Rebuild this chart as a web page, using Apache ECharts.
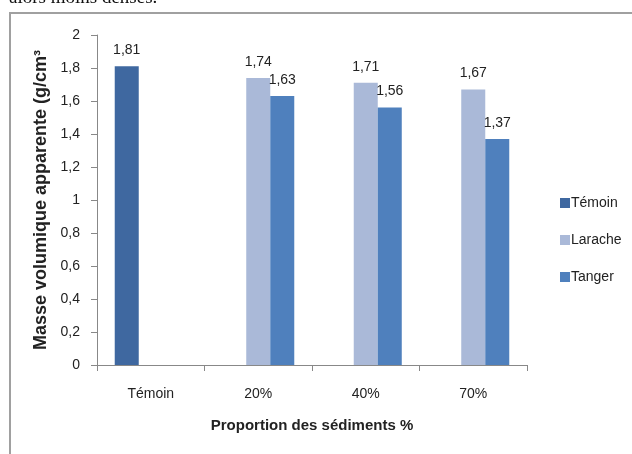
<!DOCTYPE html>
<html>
<head>
<meta charset="utf-8">
<script src="https://cdn.jsdelivr.net/npm/echarts@6/dist/echarts.min.js"></script>
<style>
  html, body { margin: 0; padding: 0; background: #fff; }
  #chart { width: 632px; height: 454px; }
</style>
</head>
<body>
<div id="chart"></div>
<script>
// Bulk density by sediment proportion
const categories = ['Témoin', '20%', '40%', '70%'];
const seriesNames = ['Témoin', 'Larache', 'Tanger'];
const temoinValues  = [1.81, null, null, null];
const laracheValues = [null, 1.74, 1.71, 1.67];
const tangerValues  = [null, 1.63, 1.56, 1.37];
const yTicks = [0, 0.2, 0.4, 0.6, 0.8, 1, 1.2, 1.4, 1.6, 1.8, 2];

const colors = ['#3F68A0', '#AAB9D8', '#4F80BD'];
const font = 'Liberation Sans';
const fmt = v => String(v).replace('.', ',');

const chart = echarts.init(document.getElementById('chart'), null, { renderer: 'canvas' });

function barSeries(name, data, color) {
  return {
    name: name,
    type: 'bar',
    data: data,
    barGap: '0%',
    barCategoryGap: '33%',
    itemStyle: { color: color },
    label: {
      show: true,
      position: 'top',
      distance: 9,
      color: '#222',
      fontFamily: font,
      fontSize: 14,
      formatter: p => fmt(p.value)
    }
  };
}

chart.setOption({
  animation: false,
  backgroundColor: '#fff',
  graphic: [
    {
      type: 'text',
      left: 9,
      top: -11,
      style: { text: 'alors moins denses.', font: '19px "Liberation Serif"', fill: '#111' }
    },
    {
      type: 'rect',
      shape: { x: 10, y: 13, width: 640, height: 460 },
      style: { fill: 'none', stroke: '#a0a0a0', lineWidth: 2 },
      z: -1
    }
  ],
  grid: { left: 97, top: 35, width: 430, height: 330, containLabel: false },
  legend: {
    orient: 'vertical',
    left: 555,
    top: 191,
    itemGap: 23,
    itemWidth: 10,
    itemHeight: 10,
    icon: 'rect',
    textStyle: { fontFamily: font, fontSize: 14, color: '#222', padding: [0, 0, 0, -4] },
    data: seriesNames
  },
  xAxis: {
    type: 'category',
    data: categories,
    name: 'Proportion des sédiments %',
    nameLocation: 'middle',
    nameGap: 53,
    nameTextStyle: { fontFamily: font, fontSize: 15, color: '#222', fontWeight: 'bold' },
    axisLine: { lineStyle: { color: '#888' } },
    axisTick: { show: true, length: 6, lineStyle: { color: '#888' } },
    axisLabel: { fontFamily: font, fontSize: 14, color: '#222', margin: 22 }
  },
  yAxis: {
    type: 'value',
    min: 0,
    max: 2,
    interval: 0.2,
    name: 'Masse volumique apparente (g/cm³',
    nameLocation: 'middle',
    nameGap: 39,
    nameRotate: 90,
    nameTextStyle: { fontFamily: font, fontSize: 18, color: '#222', fontWeight: 'bold' },
    axisLine: { show: true, lineStyle: { color: '#888' } },
    axisTick: { show: true, inside: false, length: 6, lineStyle: { color: '#888' } },
    splitLine: { show: false },
    axisLabel: {
      fontFamily: font, fontSize: 14, color: '#222', margin: 17,
      formatter: v => {
        const t = yTicks.find(k => Math.abs(k - v) < 1e-9);
        return fmt(t !== undefined ? t : v);
      }
    }
  },
  series: [
    barSeries(seriesNames[0], temoinValues, colors[0]),
    barSeries(seriesNames[1], laracheValues, colors[1]),
    barSeries(seriesNames[2], tangerValues, colors[2])
  ]
});
</script>
</body>
</html>
